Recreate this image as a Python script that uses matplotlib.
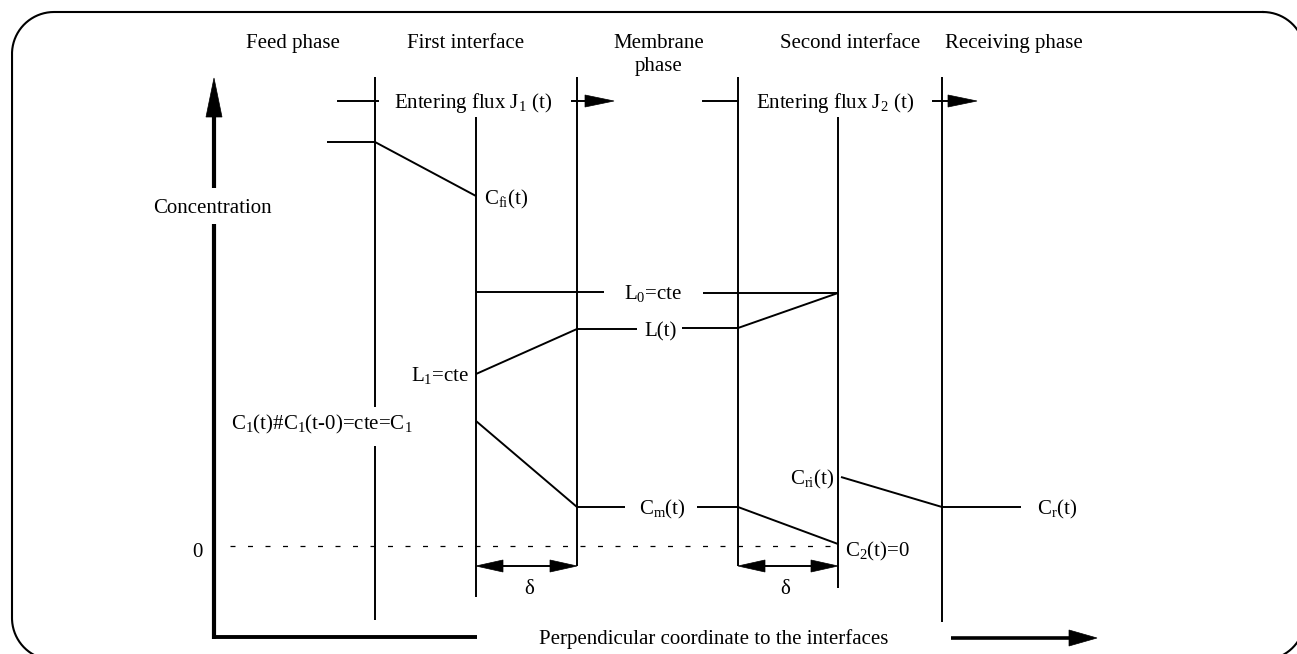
import matplotlib
matplotlib.use("Agg")
import numpy as np
import matplotlib.pyplot as plt
from matplotlib.patches import Polygon

plt.rcParams['font.family'] = ['Liberation Serif', 'DejaVu Serif']
plt.rcParams['mathtext.fontset'] = 'custom'
plt.rcParams['mathtext.rm'] = 'Liberation Serif'
plt.rcParams['mathtext.it'] = 'Liberation Serif:italic'

W, H = 1297, 654
FS = 15

# ---- diagram data (pixel space of the reference) ----
frame_box = (12, 12, 1305, 660)   # left, top, right, bottom
frame_radius = 42

interface_x = [375, 476, 577, 738, 838, 942]
interface_segments = [
    [(77, 407), (446, 620)],
    [(117, 597)],
    [(77, 566)],
    [(77, 566)],
    [(117, 588)],
    [(77, 622)],
]

feed_x, feed_y = [327, 375, 476], [142, 142, 196]
L1_x, L1_y = [476, 577, 637], [374, 329, 329]
L2_x, L2_y = [682, 738, 838], [328, 328, 293]
L0a_x, L0a_y = [476, 604], [292, 292]
L0b_x, L0b_y = [703, 838], [293, 293]
Cm1_x, Cm1_y = [476, 577, 625], [421, 507, 507]
Cm2_x, Cm2_y = [697, 738, 838], [507, 507, 544]
Cr_x, Cr_y = [841, 942, 1021], [477, 507, 507]
zero_x, zero_y = [230, 838], [546, 546]

yaxis_x = 214
yaxis_arrow = (188, 78)
yaxis_lower = (224, 637)
xaxis_line = (212.5, 477, 637)
xaxis_arrow = (951, 1097, 638)

flux_lines = [(338, 378, 101), (703, 738, 101)]
flux_arrows = [(571, 614, 101), (932, 977, 101)]
delta_arrows = [(476, 577, 566), (738, 838, 566)]

phase_labels = ["Feed phase", "First interface", "Membrane", "phase",
                "Second interface", "Receiving phase"]
phase_label_x = [293, 466, 659, 659, 850, 1014]
phase_label_y = [48, 48, 48, 71, 48, 48]

fig = plt.figure(figsize=(W / 100, H / 100), dpi=100)
ax = fig.add_axes([0, 0, 1, 1])
ax.set_xlim(0, W)
ax.set_ylim(H, 0)
ax.axis('off')

# rounded frame
l, tp, r, b = frame_box
rad = frame_radius
corners = [(r - rad, tp + rad, -90, 0), (r - rad, b - rad, 0, 90),
           (l + rad, b - rad, 90, 180), (l + rad, tp + rad, 180, 270)]
fx, fy = [], []
for cx, cy, a0, a1 in corners:
    ang = np.radians(np.linspace(a0, a1, 40))
    fx.extend(cx + rad * np.cos(ang))
    fy.extend(cy + rad * np.sin(ang))
fx.append(fx[0]); fy.append(fy[0])
ax.plot(fx, fy, color='black', lw=1.5, clip_on=False)

LW = 1.4


def arrow(x0, y0, x1, y1, lw, hl, hw):
    dx, dy = x1 - x0, y1 - y0
    d = (dx ** 2 + dy ** 2) ** 0.5
    ux, uy = dx / d, dy / d
    bx, by = x1 - ux * hl, y1 - uy * hl
    ax.plot([x0, bx + ux], [y0, by + uy], color='black', lw=lw,
            solid_capstyle='butt')
    px, py = -uy, ux
    ax.add_patch(Polygon([(x1, y1), (bx + px * hw, by + py * hw),
                          (bx - px * hw, by - py * hw)], closed=True,
                         fc='black', ec='black', lw=0.5))


for x, segs in zip(interface_x, interface_segments):
    for y0, y1 in segs:
        ax.plot([x, x], [y0, y1], color='black', lw=LW, solid_capstyle='butt')

for xs, ys in [(feed_x, feed_y), (L1_x, L1_y), (L2_x, L2_y), (L0a_x, L0a_y),
               (L0b_x, L0b_y), (Cm1_x, Cm1_y), (Cm2_x, Cm2_y), (Cr_x, Cr_y)]:
    ax.plot(xs, ys, color='black', lw=LW, solid_capstyle='butt')

ax.plot(zero_x, zero_y, color='black', lw=0.9, linestyle=(0, (4, 10)))

# axes
arrow(yaxis_x, yaxis_arrow[0], yaxis_x, yaxis_arrow[1], 3, 39, 8)
ax.plot([yaxis_x, yaxis_x], [yaxis_lower[0], yaxis_lower[1] + 1.5],
        color='black', lw=3, solid_capstyle='butt')
ax.plot([xaxis_line[0], xaxis_line[1]], [xaxis_line[2], xaxis_line[2]],
        color='black', lw=2.8, solid_capstyle='butt')
arrow(xaxis_arrow[0], xaxis_arrow[2], xaxis_arrow[1], xaxis_arrow[2], 2.6, 28, 8)

for x0, x1, y in flux_lines:
    ax.plot([x0, x1], [y, y], color='black', lw=LW)
for x0, x1, y in flux_arrows:
    arrow(x0, y, x1, y, LW, 29, 6)
for x0, x1, y in delta_arrows:
    xm = (x0 + x1) / 2
    arrow(xm, y, x0, y, LW, 27, 6)
    arrow(xm, y, x1, y, LW, 27, 6)

# texts
for lab, x, y in zip(phase_labels, phase_label_x, phase_label_y):
    ax.text(x, y, lab, ha='center', va='baseline', fontsize=FS)


def t(x, y, s, ha='center'):
    ax.text(x, y, s, ha=ha, va='baseline', fontsize=FS)


t(473, 108, r"Entering flux J$_1$ (t)")
t(835, 108, r"Entering flux J$_2$ (t)")
t(212, 213, "Concentration")
t(484, 204, r"C$_{\mathrm{fi}}$(t)", ha='left')
t(653, 299, r"L$_0$=cte")
t(661, 336, "L(t)")
t(469, 381, r"L$_1$=cte", ha='right')
t(322, 429, r"C$_1$(t)#C$_1$(t-0)=cte=C$_1$")
t(834, 484, r"C$_{\mathrm{ri}}$(t)", ha='right')
t(662, 514, r"C$_{\mathrm{m}}$(t)")
t(1057, 514, r"C$_{\mathrm{r}}$(t)")
t(197, 557, "0")
t(845, 556, r"C$_2$(t)=0", ha='left')
t(529, 594, "δ")
t(785, 594, "δ")
t(714, 644, "Perpendicular coordinate to the interfaces")

fig.savefig("out.png", dpi=100)
